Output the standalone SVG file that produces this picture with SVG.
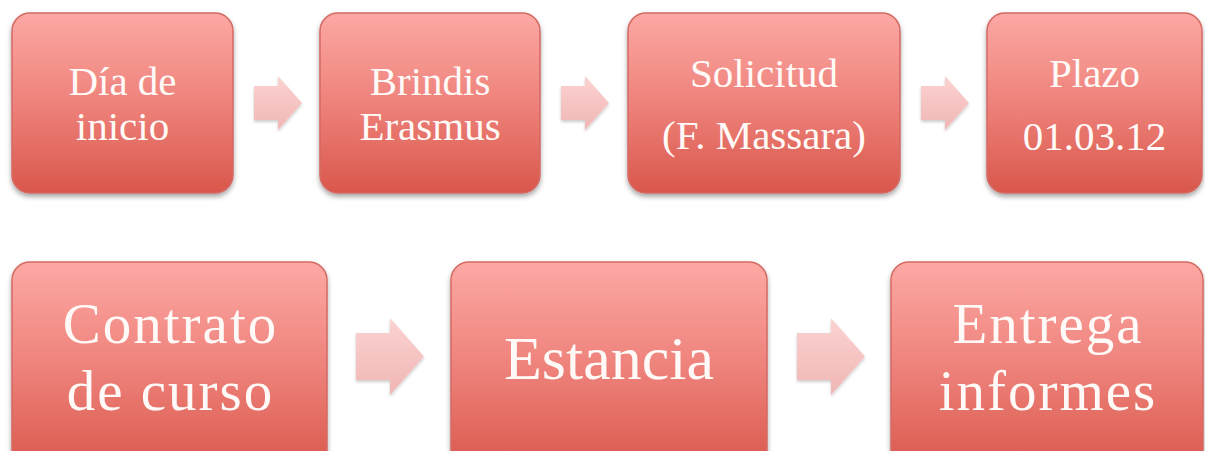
<svg xmlns="http://www.w3.org/2000/svg" width="1205" height="451" viewBox="0 0 1205 451">
<style>
.box{fill:url(#bg);stroke:#D46A63;stroke-width:1.5;filter:url(#sh)}
.arr{fill:url(#ag);filter:url(#sh2)}
text{font-family:"Liberation Serif","DejaVu Serif",serif;fill:#FFFAF7;text-anchor:middle}
.s{font-size:41px}
.l{font-size:57px;letter-spacing:2px}
.e{font-size:62px}
</style>
<defs>
<linearGradient id="bg" x1="0" y1="0" x2="0" y2="1">
<stop offset="0" stop-color="#FDA8A4"/>
<stop offset="0.5" stop-color="#EE827B"/>
<stop offset="1" stop-color="#D9574B"/>
</linearGradient>
<linearGradient id="ag" x1="0" y1="0" x2="0" y2="1">
<stop offset="0" stop-color="#FBD3D2"/>
<stop offset="1" stop-color="#F0B6B4"/>
</linearGradient>
<filter id="sh" x="-10%" y="-10%" width="120%" height="130%">
<feDropShadow dx="0" dy="3" stdDeviation="2.5" flood-color="#000" flood-opacity="0.35"/>
</filter>
<filter id="sh2" x="-20%" y="-20%" width="140%" height="150%">
<feDropShadow dx="0" dy="2" stdDeviation="1.5" flood-color="#000" flood-opacity="0.2"/>
</filter>
</defs>
<g id="connectors">
<path class="arr" d="M254,86 H278 V76 L302,103 L278,130 V120 H254 Z"/>
<path class="arr" d="M561,86 H585 V76 L609,103 L585,130 V120 H561 Z"/>
<path class="arr" d="M921,86 H945 V76 L969,103 L945,130 V120 H921 Z"/>
<path class="arr" d="M356,333 H390 V318 L424,356.5 L390,395 V380 H356 Z"/>
<path class="arr" d="M797,333 H831 V318 L865,356.5 L831,395 V380 H797 Z"/>
</g>
<g id="n1"><rect class="box" x="12" y="13" width="221" height="180" rx="18"/><text class="s" x="122.5" y="95">Día de</text><text class="s" x="122.5" y="140">inicio</text></g>
<g id="n2"><rect class="box" x="320" y="13" width="220" height="180" rx="18"/><text class="s" x="430" y="95">Brindis</text><text class="s" x="430" y="140">Erasmus</text></g>
<g id="n3"><rect class="box" x="628" y="13" width="272" height="180" rx="18"/><text class="s" x="764" y="87">Solicitud</text><text class="s" x="764" y="149">(F. Massara)</text></g>
<g id="n4"><rect class="box" x="987" y="13" width="215" height="180" rx="18"/><text class="s" x="1094.5" y="87">Plazo</text><text class="s" x="1094.5" y="150">01.03.12</text></g>
<g id="n5"><rect class="box" x="12" y="262" width="315" height="210" rx="18"/><text class="l" x="170.5" y="343">Contrato</text><text class="l" x="170.5" y="410">de curso</text></g>
<g id="n6"><rect class="box" x="451" y="262" width="316" height="210" rx="18"/><text class="e" x="609" y="379">Estancia</text></g>
<g id="n7"><rect class="box" x="891" y="262" width="312" height="210" rx="18"/><text class="l" x="1048" y="343">Entrega</text><text class="l" x="1048" y="410">informes</text></g>
</svg>
